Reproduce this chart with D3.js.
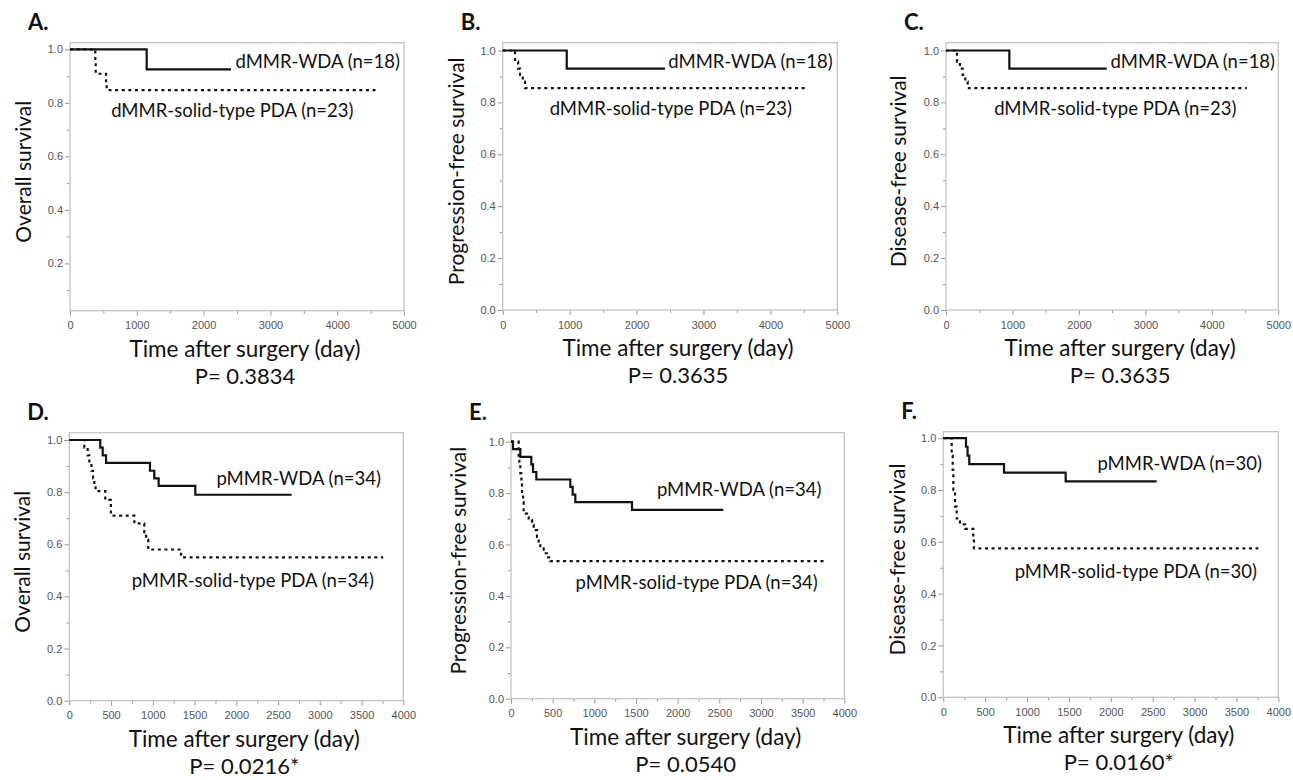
<!DOCTYPE html>
<html>
<head>
<meta charset="utf-8">
<script src="https://cdn.jsdelivr.net/npm/d3@7"></script>
<style>
  body { margin: 0; background: #fff; }
  text { font-family: Lato, 'Open Sans', sans-serif; fill: #111; }
  .tick text { font-family: 'Liberation Sans', Arial, sans-serif; font-size: 11px; fill: #555; }
  .tick line { stroke: #999; }
</style>
</head>
<body>
<div id="root"></div>
<script>
// Kaplan-Meier steps: [day, survival from that day on]; last point = end of follow-up
const A_WDA = [[0, 1], [1148, 0.925], [2410, 0.925]];
const A_PDA = [[0, 1], [379, 0.955], [385, 0.909], [540, 0.87], [549, 0.848], [4591, 0.848]];
const B_WDA = [[0, 1], [957, 0.93], [2426, 0.93]];
const B_PDA = [[0, 1], [184, 0.957], [230, 0.93], [259, 0.906], [300, 0.88], [333, 0.855], [4544, 0.855]];
const C_WDA = [[0, 1], [953, 0.93], [2418, 0.93]];
const C_PDA = [[0, 1], [165, 0.957], [210, 0.93], [251, 0.906], [290, 0.88], [326, 0.855], [4524, 0.855]];
const D_WDA = [[0, 1], [371, 0.971], [400, 0.941], [440, 0.912], [966, 0.882], [1018, 0.853], [1070, 0.824], [1509, 0.79], [2663, 0.79]];
const D_PDA = [[0, 1], [180, 0.971], [220, 0.941], [240, 0.912], [265, 0.882], [285, 0.853], [300, 0.824], [315, 0.804],
  [431, 0.77], [498, 0.71], [779, 0.68], [898, 0.647], [920, 0.618], [945, 0.58], [1338, 0.55], [3760, 0.55]];
const E_WDA = [[0, 1], [24, 0.971], [112, 0.941], [244, 0.912], [264, 0.882], [304, 0.853], [712, 0.824], [740, 0.794],
  [772, 0.765], [1452, 0.735], [2548, 0.735]];
const E_PDA = [[0, 1], [92, 0.94], [100, 0.91], [112, 0.877], [125, 0.84], [132, 0.80], [145, 0.765], [152, 0.72],
  [192, 0.706], [212, 0.695], [252, 0.676], [272, 0.656], [312, 0.63], [332, 0.605], [352, 0.585], [392, 0.566],
  [432, 0.55], [472, 0.535], [3770, 0.535]];
const F_WDA = [[0, 1], [271, 0.967], [290, 0.933], [310, 0.90], [725, 0.867], [1461, 0.833], [2547, 0.833]];
const F_PDA = [[0, 1], [100, 0.933], [112, 0.878], [120, 0.80], [140, 0.736], [160, 0.69], [199, 0.667], [260, 0.65],
  [358, 0.62], [366, 0.575], [3761, 0.575]];

const panelLetters = ['A.', 'B.', 'C.', 'D.', 'E.', 'F.'];
const yTitles = ['Overall survival', 'Progression-free survival', 'Disease-free survival',
  'Overall survival', 'Progression-free survival', 'Disease-free survival'];
const xTitle = 'Time after surgery (day)';
const pValues = ['P= 0.3834', 'P= 0.3635', 'P= 0.3635', 'P= 0.0216*', 'P= 0.0540', 'P= 0.0160*'];
const wdaLabels = ['dMMR-WDA (n=18)', 'dMMR-WDA (n=18)', 'dMMR-WDA (n=18)',
  'pMMR-WDA (n=34)', 'pMMR-WDA (n=34)', 'pMMR-WDA (n=30)'];
const pdaLabels = ['dMMR-solid-type PDA (n=23)', 'dMMR-solid-type PDA (n=23)', 'dMMR-solid-type PDA (n=23)',
  'pMMR-solid-type PDA (n=34)', 'pMMR-solid-type PDA (n=34)', 'pMMR-solid-type PDA (n=30)'];
const wdaCurves = [A_WDA, B_WDA, C_WDA, D_WDA, E_WDA, F_WDA];
const pdaCurves = [A_PDA, B_PDA, C_PDA, D_PDA, E_PDA, F_PDA];
const xMaxDays = [5000, 5000, 5000, 4000, 4000, 4000];
const xMajorStep = [1000, 1000, 1000, 500, 500, 500];
const yMinValue = [0.023, 0, 0, 0, 0, 0];
const yMaxValue = [1.025, 1.03, 1.03, 1.028, 1.035, 1.025];

// layout: plot frames [left, top, right, bottom] and label anchors
const boxes = [[70, 42.7, 404, 310.7], [502.7, 42.7, 837.3, 310], [946, 42.7, 1278.3, 310],
  [69.3, 432.7, 403.3, 700.7], [511, 432.7, 844.3, 698.7], [943.3, 431.7, 1278.3, 697.3]];
const wdaLabelPos = [[317.7, 68], [750.5, 68], [1192.8, 68], [298.7, 485], [739.2, 496], [1179.7, 470]];
const pdaLabelPos = [[232.3, 117], [670.8, 115], [1115.3, 115], [252.8, 587], [696.7, 589], [1135.8, 578]];
const yTitleX = [22, 455.7, 897, 21.7, 457, 896.7];

const width = 1293, height = 780;
const svg = d3.select('#root').append('svg')
  .attr('width', width)
  .attr('height', height);

panelLetters.forEach((letter, i) => {
  const [x0, y0, x1, y1] = boxes[i];
  const g = svg.append('g');
  const x = d3.scaleLinear().domain([0, xMaxDays[i]]).range([x0, x1]);
  const y = d3.scaleLinear().domain([yMinValue[i], yMaxValue[i]]).range([y1, y0]);

  const yMajor = d3.range(0, 1.01, 0.2).filter(v => v >= yMinValue[i] - 1e-9);
  const yMinor = d3.range(0.1, 1.0, 0.2);
  const xMajor = d3.range(0, xMaxDays[i] + 1, xMajorStep[i]);
  const xMinor = d3.range(xMajorStep[i] / 2, xMaxDays[i], xMajorStep[i]);

  g.append('g').attr('transform', `translate(${x0},0)`)
    .call(d3.axisLeft(y).tickValues(yMinor).tickSize(3).tickFormat(''))
    .call(a => a.select('.domain').remove());
  g.append('g').attr('transform', `translate(${x0},0)`)
    .call(d3.axisLeft(y).tickValues(yMajor).tickSize(5).tickPadding(2).tickFormat(d3.format('.1f')))
    .call(a => a.select('.domain').remove());
  g.append('g').attr('transform', `translate(0,${y1})`)
    .call(d3.axisBottom(x).tickValues(xMinor).tickSize(3).tickFormat(''))
    .call(a => a.select('.domain').remove());
  g.append('g').attr('transform', `translate(0,${y1})`)
    .call(d3.axisBottom(x).tickValues(xMajor).tickSize(5).tickPadding(6).tickFormat(d3.format('d')))
    .call(a => a.select('.domain').remove());

  g.append('rect')
    .attr('x', x0).attr('y', y0)
    .attr('width', x1 - x0).attr('height', y1 - y0)
    .attr('fill', 'none')
    .attr('stroke', '#c4c4c4')
    .attr('stroke-width', 1.3);

  const line = d3.line()
    .curve(d3.curveStepAfter)
    .x(d => x(d[0]))
    .y(d => y(d[1]));

  g.append('path')
    .datum(pdaCurves[i])
    .attr('d', line)
    .attr('fill', 'none')
    .attr('stroke', '#111')
    .attr('stroke-width', 2.2)
    .attr('stroke-dasharray', '3,3.6');
  g.append('path')
    .datum(wdaCurves[i])
    .attr('d', line)
    .attr('fill', 'none')
    .attr('stroke', '#111')
    .attr('stroke-width', 2.2);

  g.append('text')
    .attr('x', x0 - 42).attr('y', y0 - 13)
    .attr('font-size', 22).attr('font-weight', 700)
    .text(letter);

  g.append('text')
    .attr('transform', `translate(${yTitleX[i]},${(y0 + y1) / 2 - 5}) rotate(-90)`)
    .attr('text-anchor', 'middle')
    .attr('dominant-baseline', 'central')
    .attr('font-size', 21)
    .text(yTitles[i]);

  const cx = (x0 + x1) / 2 + 8;
  g.append('text')
    .attr('x', cx).attr('y', y1 + 46)
    .attr('text-anchor', 'middle')
    .attr('font-size', 22.5)
    .text(xTitle);
  g.append('text')
    .attr('x', cx).attr('y', y1 + 73)
    .attr('text-anchor', 'middle')
    .attr('font-size', 22)
    .text(pValues[i]);

  g.append('text')
    .attr('x', wdaLabelPos[i][0]).attr('y', wdaLabelPos[i][1])
    .attr('text-anchor', 'middle')
    .attr('font-size', 18.5)
    .text(wdaLabels[i]);
  g.append('text')
    .attr('x', pdaLabelPos[i][0]).attr('y', pdaLabelPos[i][1])
    .attr('text-anchor', 'middle')
    .attr('font-size', 18.5)
    .text(pdaLabels[i]);
});
</script>
</body>
</html>
